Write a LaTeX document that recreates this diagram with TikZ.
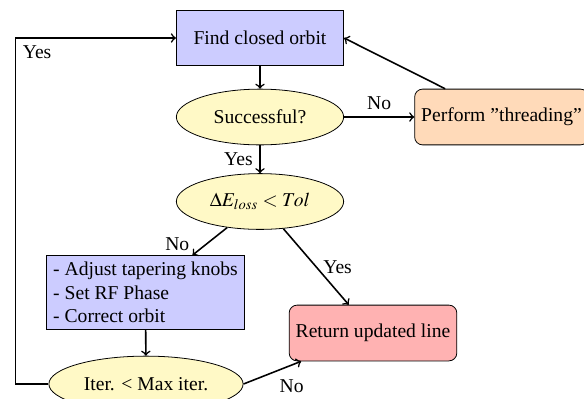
\documentclass[tikz,border=0pt]{standalone}
\usepackage{mathptmx}
\usepackage{fontspec}
\setmainfont{Liberation Serif}
\usetikzlibrary{shapes.geometric, arrows}

\definecolor{boxblue}{RGB}{204,204,255}
\definecolor{testyellow}{RGB}{255,249,198}
\definecolor{threadorange}{RGB}{255,218,185}
\definecolor{donered}{RGB}{255,178,178}

\begin{document}
\begin{tikzpicture}[x=0.5102pt, y=-0.5102pt, >=to, thick,
    process/.style={rectangle, draw, thin, fill=boxblue, minimum width=3cm, minimum height=1cm},
    decision/.style={ellipse, draw, thin, fill=testyellow, minimum width=3cm, minimum height=1cm},
    action/.style={rectangle, rounded corners, draw, thin, minimum width=3cm, minimum height=1cm}]
    \useasboundingbox (0,0) rectangle (584,398);

    % Main column
    \node[process] (find) at (260,38) {Find closed orbit};
    \node[decision] (succ) at (260,117) {Successful?};
    \node[decision] (dloss) at (260,201.5) {$\Delta E_{loss} < Tol$};

    % Threading branch
    \node[action, fill=threadorange] (thread) at (501.5,117) {Perform ”threading”};

    % Correction loop
    \node[process, align=left] (adjust) at (145.5,292.5) {- Adjust tapering knobs\\- Set RF Phase\\- Correct orbit};
    \node[decision] (iter) at (146,384) {Iter. < Max iter.};

    % Exit
    \node[action, fill=donered] (ret) at (373,333) {Return updated line};

    \path[->]
    (find) edge (succ)
    (succ) edge node [above] {No} (thread)
    (thread) edge (find.east)
    (succ) edge node [left] {Yes} (dloss)
    (dloss) edge node [pos=0.6, left=5pt] {No} (adjust)
    (dloss) edge node [right] {Yes} (ret)
    (adjust) edge (iter)
    (iter.east) edge node [below right] {No} (ret);

    % Back to the start
    \draw[->] (iter.west) -- ++(-33,0) |- node[pos=0.5, below right] {Yes} (find.west);
\end{tikzpicture}
\end{document}
